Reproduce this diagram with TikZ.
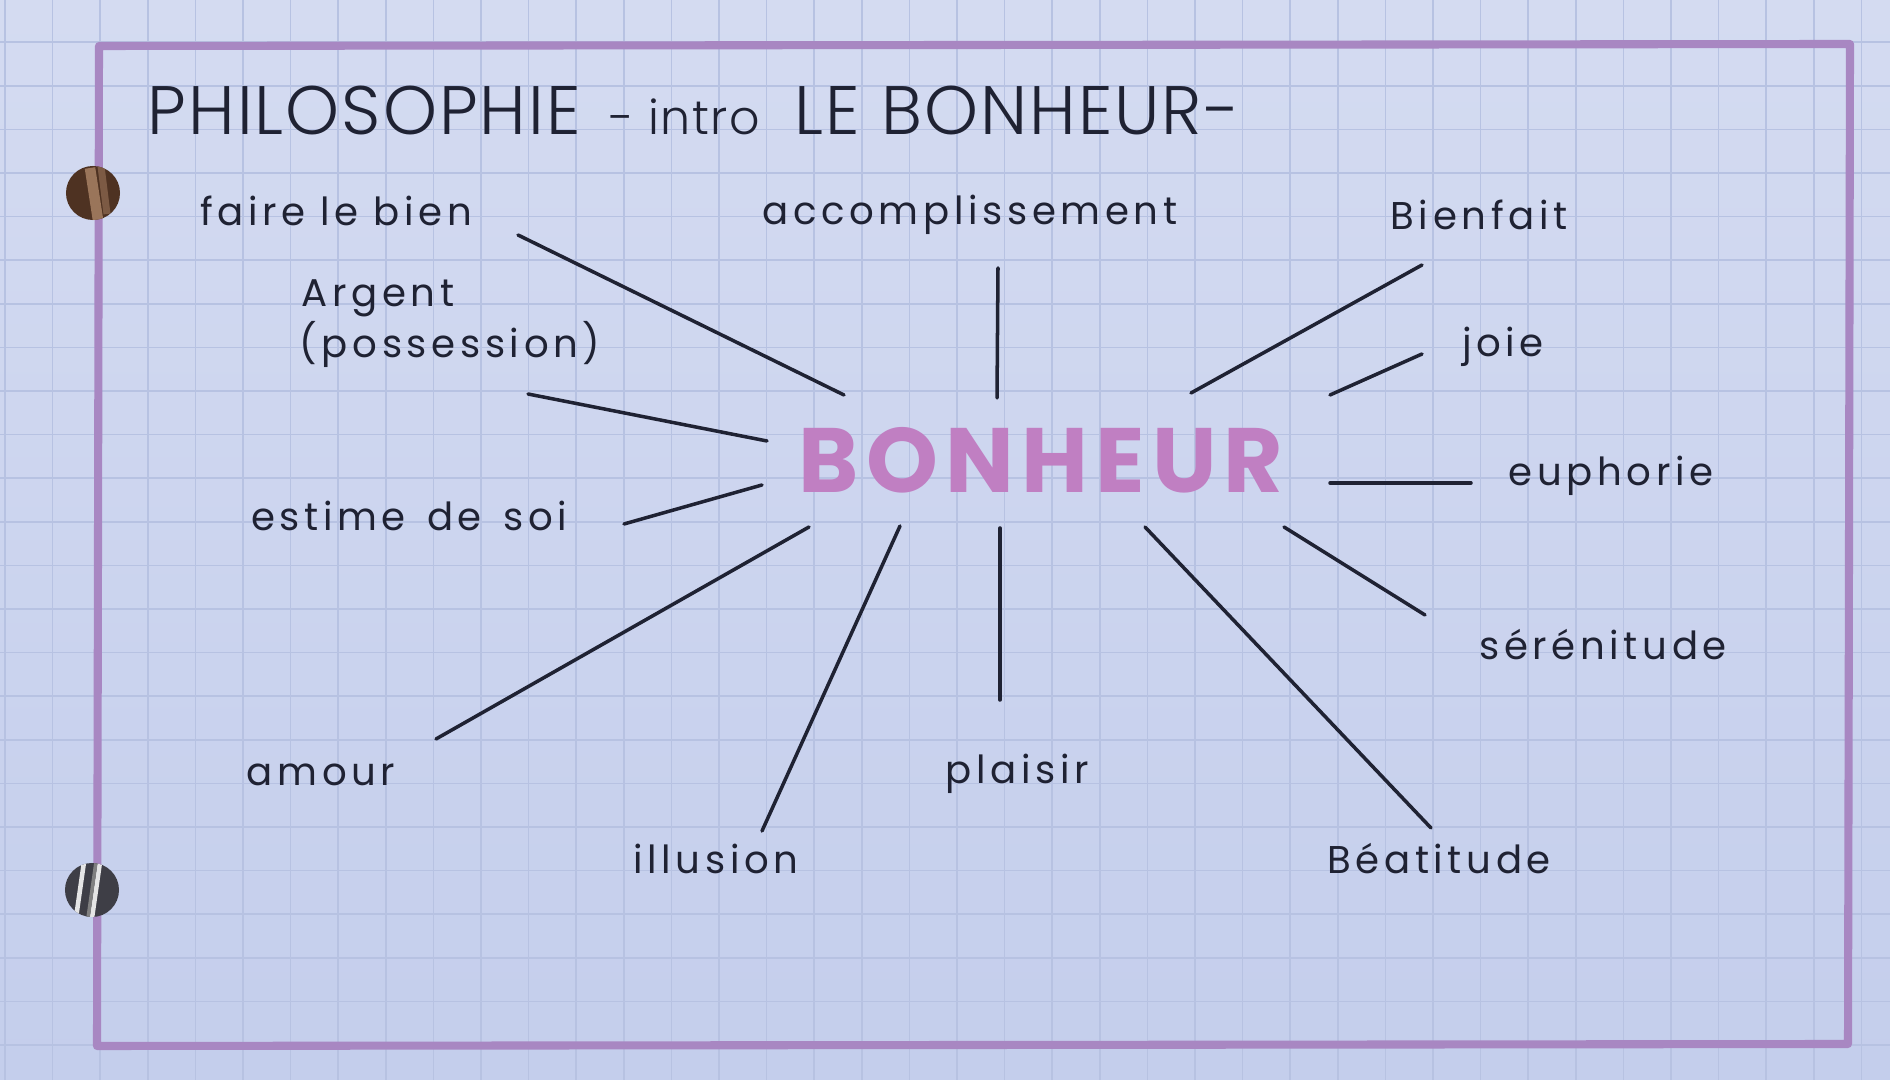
\documentclass[tikz,border=0pt]{standalone}
\usepackage{fontspec}
\setmainfont{Poppins}
\newfontfamily\handfont[LetterSpace=12]{Poppins}
\newfontfamily\markerfont[LetterSpace=8]{Poppins}
\IfFontExistsTF{Poppins Light}
  {\newfontfamily\penfont[LetterSpace=3]{Poppins Light}}
  {\newfontfamily\penfont[LetterSpace=3]{Poppins}}
\usetikzlibrary{positioning}
\definecolor{papertop}{HTML}{D4DBF1}
\definecolor{paperbot}{HTML}{C4CEEC}
\definecolor{gridblue}{HTML}{B7C2E2}
\definecolor{ink}{HTML}{1F2233}
\definecolor{mauve}{HTML}{A887C2}
\definecolor{rose}{HTML}{C07FC2}
\definecolor{holebrown}{HTML}{4E3222}
\definecolor{holetan}{HTML}{9A755A}
\definecolor{holegray}{HTML}{3E3E46}

\begin{document}
\begin{tikzpicture}[x=0.01cm,y=-0.01cm,
    word/.style={font=\handfont\fontsize{11}{13}\selectfont, text=ink, inner sep=0pt},
    titlebig/.style={font=\penfont\fontsize{19.5}{22}\selectfont, text=ink, inner sep=0pt},
    titlesmall/.style={font=\penfont\fontsize{13.5}{16}\selectfont, text=ink, inner sep=0pt},
    ray/.style={draw=ink, line width=1pt, line cap=round},
    gridline/.style={draw=gridblue, line width=0.45pt},
    ]
  % paper
  \shade[top color=papertop, bottom color=paperbot] (0,0) rectangle (1890,1080);
  \useasboundingbox (0,0) rectangle (1890,1080);
  \foreach \i in {0,...,39}
    \draw[gridline] ({5+47.6*\i},0) -- ({5+47.6*\i},1080);
  \foreach \j in {0,...,24}
    \draw[gridline] (0,{42.2+43.6*\j}) -- (1890,{42.2+43.6*\j});

  % frame
  \draw[mauve, line width=2.3pt, line join=round]
    (99,46) -- (1850,44) -- (1848,1044) -- (97,1046) -- cycle;

  % binder holes
  \begin{scope}
    \clip (93,193) circle (0.27cm);
    \fill[holebrown] (60,160) rectangle (126,226);
    \draw[holetan, line width=3pt] (90,168) -- (98,220);
    \draw[holetan!60!holebrown, line width=2pt] (101,166) -- (107,214);
  \end{scope}
  \begin{scope}
    \clip (92,890) circle (0.27cm);
    \fill[holegray] (59,857) rectangle (125,923);
    \foreach \s in {-8,8}
      \draw[white!80!gray, line width=1.3pt] ({92+\s},862) -- ({84+\s},918);
    \draw[gray, line width=1pt] (96,862) -- (88,918);
  \end{scope}

  % title
  \node[titlebig, anchor=base west] (philo) at (147,135) {PHILOSOPHIE};
  \node[titlesmall, anchor=base west] (intro) at ([xshift=0.27cm]philo.base east) {- intro};
  \node[titlebig, anchor=base west] (letitle) at ([xshift=0.34cm]intro.base east) {LE BONHEUR-};

  % centre
  \node[font=\markerfont\bfseries\fontsize{26}{30}\selectfont, text=rose, inner sep=0pt]
    (bonheur) at (1041,460) {BONHEUR};

  % words
  \node[word] (bien) at (336,211) {faire le bien};
  \node[word] (accomp) at (970,215) {accomplissement};
  \node[word] (bienfait) at (1479,215) {Bienfait};
  \node[word] (argent) at (378,298) {Argent};
  \node[word, below=0.03cm of argent, xshift=0.72cm] (possession) {(possession)};
  \node[word] (joie) at (1503,347) {joie};
  \node[word] (euphorie) at (1611,476) {euphorie};
  \node[word] (estime) at (409,516) {estime\hspace{0.55em}de\hspace{0.55em}soi};
  \node[word] (serenitude) at (1603,645) {sérénitude};
  \node[word] (amour) at (321,775) {amour};
  \node[word] (plaisir) at (1017,774) {plaisir};
  \node[word] (illusion) at (716,859) {illusion};
  \node[word] (beatitude) at (1439,859) {Béatitude};

  % ray ends
  \coordinate (bien-out) at (518,235);     \coordinate (bien-in) at (844,395);
  \coordinate (accomp-out) at (998,268);   \coordinate (accomp-in) at (997,398);
  \coordinate (bienfait-out) at (1422,265); \coordinate (bienfait-in) at (1191,393);
  \coordinate (joie-out) at (1422,354);    \coordinate (joie-in) at (1330,395);
  \coordinate (argent-out) at (528,394);   \coordinate (argent-in) at (767,441);
  \coordinate (euphorie-out) at (1471,483); \coordinate (euphorie-in) at (1330,483);
  \coordinate (estime-out) at (624,524);   \coordinate (estime-in) at (762,485);
  \coordinate (seren-out) at (1425,615);   \coordinate (seren-in) at (1284,527);
  \coordinate (amour-out) at (436,739);    \coordinate (amour-in) at (809,527);
  \coordinate (illusion-out) at (762,831); \coordinate (illusion-in) at (900,526);
  \coordinate (plaisir-out) at (1000,700); \coordinate (plaisir-in) at (1000,528);
  \coordinate (beat-out) at (1431,828);    \coordinate (beat-in) at (1145,527);

  \foreach \r in {bien,accomp,bienfait,joie,argent,euphorie,estime,seren,amour,illusion,plaisir,beat}
    \draw[ray] (\r-out) -- (\r-in);
\end{tikzpicture}
\end{document}
